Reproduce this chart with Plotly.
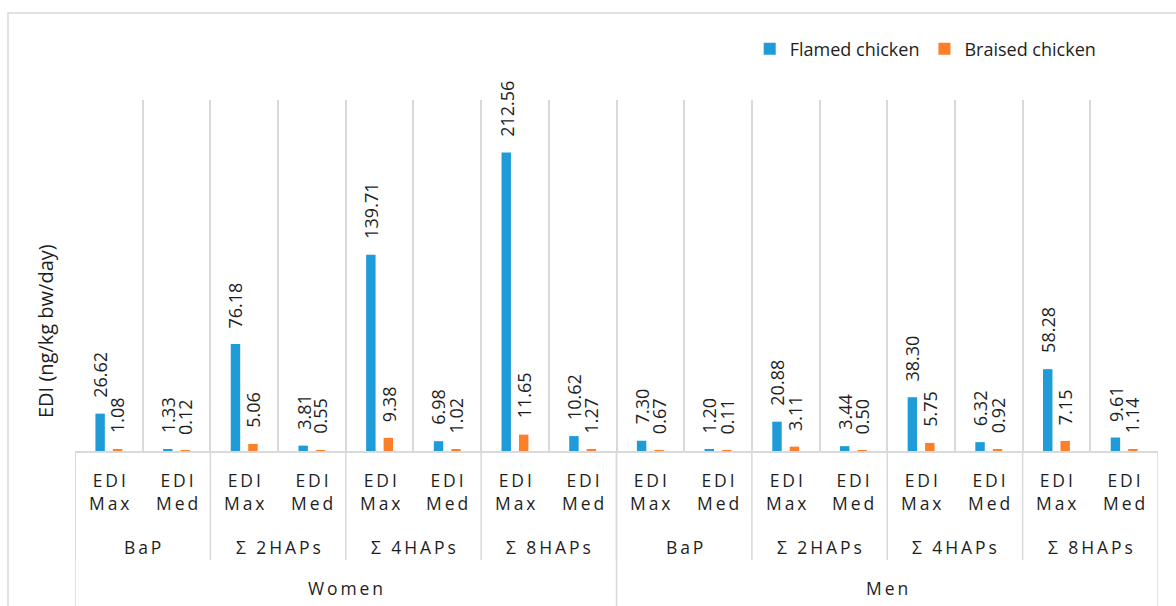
import plotly.graph_objects as go

# ---------------- data ----------------
sexes = ["Women", "Men"]
compounds = ["BaP", "Σ 2HAPs", "Σ 4HAPs", "Σ 8HAPs"]
edi_types = ["EDI Max", "EDI Med"]

flamed = [26.62, 1.33, 76.18, 3.81, 139.71, 6.98, 212.56, 10.62,
          7.30, 1.20, 20.88, 3.44, 38.30, 6.32, 58.28, 9.61]
braised = [1.08, 0.12, 5.06, 0.55, 9.38, 1.02, 11.65, 1.27,
           0.67, 0.11, 3.11, 0.50, 5.75, 0.92, 7.15, 1.14]

series_names = ["Flamed chicken", "Braised chicken"]
series_colors = ["#1F9CD8", "#FE7F2A"]

# ---------------- style ----------------
FONT = "Open Sans"
TXT = "#1e1e1e"
GRID = "#d9d9d9"
W, H = 1176, 606
ML, MR, MT, MB = 75, 18, 100, 155
PH = H - MT - MB
BARGAP, GROUPGAP = 0.484, 0.46
THIN = "\u2009"


def spaced(s):
    return THIN.join(list(s))


# category keys
cats = []
cat_meta = []
for s in sexes:
    for c in compounds:
        for e in edi_types:
            cats.append(f"{s} | {c} | {e}")
            cat_meta.append((s, c, e))

fig = go.Figure()
for name, vals, col in zip(series_names, [flamed, braised], series_colors):
    fig.add_trace(go.Bar(x=cats, y=vals, name=name, marker=dict(color=col, line=dict(width=0))))

annotations = []
# data labels (rotated, above bars)
slot = (1 - BARGAP) / 2
for k, vals in enumerate([flamed, braised]):
    off = (k - 0.5) * slot
    for i, v in enumerate(vals):
        annotations.append(dict(
            x=i + off, y=v, xref="x", yref="y", text=f"{v:.2f}", showarrow=False,
            textangle=-90, xanchor="center", yanchor="bottom", yshift=14,
            font=dict(family=FONT, size=18, color=TXT)))


def py(px):
    """pixel offset below baseline -> paper coordinate"""
    return -px / PH


# bottom level labels
for i, (s, c, e) in enumerate(cat_meta):
    a, b = e.split(" ")
    annotations.append(dict(
        x=i, y=0, xref="x", yref="paper", text=spaced(a) + "<br>" + spaced(b),
        showarrow=False, xanchor="center", yanchor="middle", yshift=-40,
        font=dict(family=FONT, size=17.5, color=TXT)))

# compound level labels
shapes = []
n_e = len(edi_types)
n_c = len(compounds)
for si, s in enumerate(sexes):
    for ci, c in enumerate(compounds):
        start = (si * n_c + ci) * n_e
        center = start + (n_e - 1) / 2
        if " " in c:
            pre, post = c.split(" ", 1)
            label = pre + THIN + " " + THIN + spaced(post)
        else:
            label = spaced(c)
        annotations.append(dict(
            x=center, y=0, xref="x", yref="paper", text=label, showarrow=False,
            xanchor="center", yanchor="middle", yshift=-96,
            font=dict(family=FONT, size=17.5, color=TXT)))
        shapes.append(dict(type="line", xref="x", yref="paper",
                           x0=start - 0.5, x1=start - 0.5, y0=0, y1=py(109),
                           line=dict(color=GRID, width=1.5)))
    s_start = si * n_c * n_e
    s_center = s_start + (n_c * n_e - 1) / 2
    annotations.append(dict(
        x=s_center, y=0, xref="x", yref="paper", text=spaced(s), showarrow=False,
        xanchor="center", yanchor="middle", yshift=-137,
        font=dict(family=FONT, size=17.5, color=TXT)))
    shapes.append(dict(type="line", xref="x", yref="paper",
                       x0=s_start - 0.5, x1=s_start - 0.5, y0=0, y1=py(170),
                       line=dict(color=GRID, width=1.5)))
end = len(cats) - 0.5
shapes.append(dict(type="line", xref="x", yref="paper", x0=end, x1=end, y0=0, y1=py(170),
                   line=dict(color=GRID, width=1.5)))

# y-axis title
annotations.append(dict(
    x=0, y=(451 - 331) / PH, xref="paper", yref="paper", xshift=-30,
    text="EDI (ng/kg bw/day)", showarrow=False, textangle=-90,
    xanchor="center", yanchor="middle", font=dict(family=FONT, size=20, color=TXT)))

# outer chart border
shapes.append(dict(type="rect", xref="paper", yref="paper",
                   x0=(8 - ML) / (W - ML - MR), x1=1.2, y0=-0.6, y1=(PH + MT - 13) / PH,
                   line=dict(color=GRID, width=1.5), layer="below"))

fig.update_layout(
    width=W, height=H,
    margin=dict(l=ML, r=MR, t=MT, b=MB),
    paper_bgcolor="white", plot_bgcolor="white",
    barmode="group", bargap=BARGAP, bargroupgap=GROUPGAP,
    font=dict(family=FONT, color=TXT),
    showlegend=True,
    legend=dict(orientation="h", x=0.623, xanchor="left", y=(PH + MT - 49) / PH, yanchor="middle",
                font=dict(family=FONT, size=18, color=TXT), bgcolor="rgba(0,0,0,0)",
                itemsizing="constant"),
    xaxis=dict(type="category", categoryorder="array", categoryarray=cats,
               range=[-0.5, len(cats) - 0.5], tickson="boundaries",
               showgrid=True, gridcolor=GRID, gridwidth=1.5,
               showticklabels=False, ticks="", showline=True, linecolor=GRID, linewidth=1.5,
               zeroline=False, fixedrange=True),
    yaxis=dict(range=[0, 250], visible=False, fixedrange=True),
    annotations=annotations,
    shapes=shapes,
)

fig.write_html("out.html")
